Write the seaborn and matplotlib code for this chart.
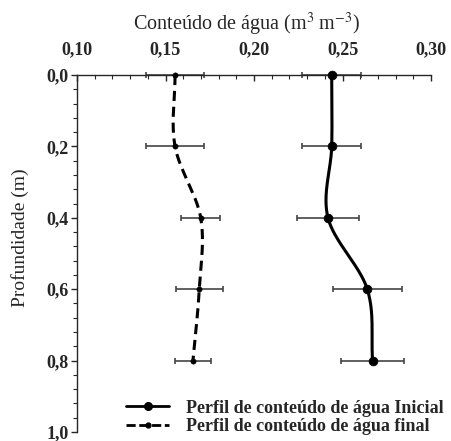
import numpy as np
import matplotlib
matplotlib.use("Agg")
import matplotlib.pyplot as plt
from matplotlib.lines import Line2D
from matplotlib.ticker import MultipleLocator, FuncFormatter
import seaborn as sns

# depth (m) and water content (m3 m-3)
depth = [0.0, 0.2, 0.4, 0.6, 0.8]
inicial = [0.2439, 0.2439, 0.2418, 0.2640, 0.2670]
inicial_err = [0.0168, 0.0168, 0.0174, 0.0195, 0.0176]
final = [0.1554, 0.1554, 0.1699, 0.1691, 0.1655]
final_err = [0.0165, 0.0165, 0.0110, 0.0134, 0.0102]

xticks = [0.10, 0.15, 0.20, 0.25, 0.30]
yticks = [0.0, 0.2, 0.4, 0.6, 0.8, 1.0]
lab_inicial = "Perfil de conteúdo de água Inicial"
lab_final = "Perfil de conteúdo de água final"


def smooth(yv, xv, n=40):
    """Catmull-Rom style smoothed line, x = f(depth), only used for drawing"""
    yv = np.asarray(yv, float)
    xv = np.asarray(xv, float)
    m = np.gradient(xv, yv)
    ys_all, xs_all = [], []
    for i in range(len(yv) - 1):
        h = yv[i + 1] - yv[i]
        t = np.linspace(0, 1, n)
        h00 = 2 * t ** 3 - 3 * t ** 2 + 1
        h10 = t ** 3 - 2 * t ** 2 + t
        h01 = -2 * t ** 3 + 3 * t ** 2
        h11 = t ** 3 - t ** 2
        xs_all.append(h00 * xv[i] + h10 * h * m[i] + h01 * xv[i + 1] + h11 * h * m[i + 1])
        ys_all.append(yv[i] + t * h)
    return np.concatenate(ys_all), np.concatenate(xs_all)


sns.set_style("ticks")
plt.rcParams["font.family"] = ["Liberation Serif", "DejaVu Serif"]
plt.rcParams["mathtext.fontset"] = "stix"

fig = plt.figure(figsize=(4.51, 4.41), dpi=100)
ax = fig.add_axes([77 / 451, 1 - 432 / 441, (431 - 77) / 451, (432 - 75) / 441])

# error bars
ax.errorbar(inicial, depth, xerr=inicial_err, fmt="none", ecolor="#444444",
            elinewidth=1.2, capsize=2.3, capthick=1.2, zorder=2, clip_on=False)
ax.errorbar(final, depth, xerr=final_err, fmt="none", ecolor="#444444",
            elinewidth=1.2, capsize=2.3, capthick=1.2, zorder=2, clip_on=False)

# smoothed lines
ys, xs = smooth(depth, inicial)
sns.lineplot(x=xs, y=ys, sort=False, orient="y", color="black", lw=2.2, ax=ax, zorder=3)
ys, xs = smooth(depth, final)
sns.lineplot(x=xs, y=ys, sort=False, orient="y", color="black", lw=2.2,
             dashes=False, ax=ax, zorder=3)
ax.lines[-1].set_dashes((3.3, 1.9))

# points
sns.scatterplot(x=inicial, y=depth, color="black", s=40, edgecolor="black",
                ax=ax, zorder=4, clip_on=False)
sns.scatterplot(x=final, y=depth, color="black", s=15, edgecolor="black",
                ax=ax, zorder=4, clip_on=False)

ax.set_xlim(0.10, 0.30)
ax.set_ylim(1.0, 0.0)

ax.xaxis.set_ticks_position("top")
ax.xaxis.set_label_position("top")
ax.set_xticks(xticks)
ax.set_yticks(yticks)
ax.xaxis.set_minor_locator(MultipleLocator(0.01))
ax.yaxis.set_minor_locator(MultipleLocator(0.04))
ax.xaxis.set_major_formatter(FuncFormatter(lambda v, p: f"{v:.2f}".replace(".", ",")))
ax.yaxis.set_major_formatter(FuncFormatter(lambda v, p: f"{v:.1f}".replace(".", ",")))
ax.tick_params(axis="x", which="both", direction="in", top=True, bottom=False,
               labelsize=13, pad=12)
ax.tick_params(axis="x", which="major", length=4, width=1)
ax.tick_params(axis="x", which="minor", length=3, width=0.8)
ax.tick_params(axis="y", which="both", direction="out", labelsize=13, pad=2)
ax.tick_params(axis="y", which="major", length=4, width=1)
ax.tick_params(axis="y", which="minor", length=3, width=0.8)
for lab in ax.get_xticklabels() + ax.get_yticklabels():
    lab.set_fontweight("bold")

ax.spines["right"].set_visible(False)
ax.spines["bottom"].set_visible(False)
ax.spines["top"].set_linewidth(1)
ax.spines["left"].set_linewidth(1)

ax.set_xlabel("Conteúdo de água (m$^{3}$ m$^{-3}$)", fontsize=14.5)
ax.set_ylabel("Profundidade (m)", fontsize=14)
ax.xaxis.set_label_coords(0.48, 1.125)
ax.yaxis.set_label_coords(-0.135, 0.545)

handles = [
    Line2D([], [], color="black", lw=2, marker="o", markersize=5.5),
    Line2D([], [], color="black", lw=2, marker="o", markersize=3.5, dashes=(3.3, 1.3)),
]
ax.legend(handles, [lab_inicial, lab_final], loc="lower right", frameon=False,
          prop={"weight": "bold", "size": 13}, handlelength=2.4,
          handletextpad=0.9, labelspacing=0.1, borderaxespad=0.1,
          bbox_to_anchor=(1.06, -0.035))

fig.savefig("out.png", dpi=100)
